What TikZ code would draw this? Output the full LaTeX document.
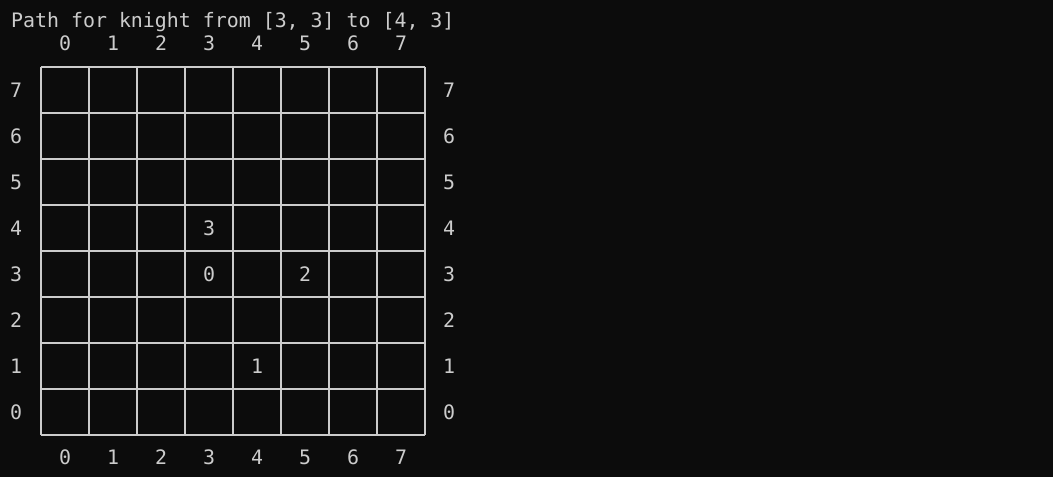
\documentclass[tikz,border=0pt]{standalone}
\usepackage{fontspec}
\setmonofont{DejaVu Sans Mono}
\definecolor{term}{HTML}{0C0C0C}
\definecolor{ink}{HTML}{CCCCCC}
\tikzset{
  lbl/.style={text=ink, font=\ttfamily\fontsize{19.9}{22}\selectfont, inner sep=0pt, anchor=base},
  gridline/.style={draw=ink, line width=2pt}
}

\begin{document}
\begin{tikzpicture}[x=1pt,y=-1pt]
	\fill[term] (0,0) rectangle (1053,477);
	\node[lbl, anchor=base west] (title) at (11,27) {Path for knight from [3, 3] to [4, 3]};
	% board lines
	\foreach \i in {0,...,8}{
		\draw[gridline] ({41+48*\i},67) -- ({41+48*\i},435);
		\draw[gridline] (41,{67+46*\i}) -- (425,{67+46*\i});
	}
	% file and rank numbers
	\foreach \c in {0,...,7}{
		\node[lbl] (top-\c) at ({65+48*\c},50) {\c};
		\node[lbl] (bot-\c) at ({65+48*\c},464) {\c};
		\node[lbl] (left-\c) at (16,{419-46*\c}) {\c};
		\node[lbl] (right-\c) at (449,{419-46*\c}) {\c};
	}
	% knight moves
	\node[lbl] (step-0) at ({65+48*3},{419-46*3}) {0};
	\node[lbl] (step-1) at ({65+48*4},{419-46*1}) {1};
	\node[lbl] (step-2) at ({65+48*5},{419-46*3}) {2};
	\node[lbl] (step-3) at ({65+48*3},{419-46*4}) {3};
\end{tikzpicture}
\end{document}
